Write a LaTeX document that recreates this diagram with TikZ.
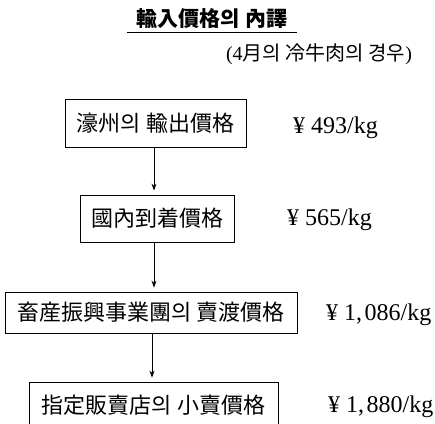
\documentclass[tikz,border=0pt]{standalone}
\usepackage{fontspec}
\setmainfont{Liberation Serif}
\newfontfamily\cjk{Noto Sans CJK KR}
\usetikzlibrary{arrows.meta}
\tikzset{
  stepbox/.style={draw, line width=0.8pt, inner sep=0pt, font=\cjk\fontsize{22}{26}\selectfont},
  price/.style={anchor=west, inner sep=0pt, font=\fontsize{24}{28}\selectfont},
  arr/.style={line width=0.8pt, -{Stealth[length=7pt,width=5pt]}, shorten >=4pt},
}
\begin{document}
\begin{tikzpicture}[x=1pt,y=-1pt]
\useasboundingbox (0,0) rectangle (435,423);
\clip (0,0) rectangle (435,423);
\node[inner sep=0pt, font=\cjk\bfseries\fontsize{21}{25}\selectfont] (title) at (212,19) {輸入價格의 內譯};
\draw[line width=0.9pt] ([xshift=-10pt,yshift=-3pt]title.south west) -- ([xshift=10pt,yshift=-3pt]title.south east);
\node[inner sep=0pt, font=\fontsize{20}{24}\selectfont] (sub) at (319,54) {(4{\cjk 月의 冷牛肉의 경우})};

\node[stepbox, minimum width=181pt, minimum height=48pt] (b1) at (155.5,123) {濠州의 輸出價格};
\node[stepbox, minimum width=154pt, minimum height=47pt] (b2) at (157,218.5) {國內到着價格};
\node[stepbox, minimum width=292pt, minimum height=41pt] (b3) at (151,312.5) {畜産振興事業團의 賣渡價格};
\node[stepbox, minimum width=249pt, minimum height=46pt] (b4) at (153.5,405) {指定販賣店의 小賣價格};

\node[price] (p1) at (293,128) {¥\hspace{0.25em}493/kg};
\node[price] (p2) at (287,220) {¥\hspace{0.25em}565/kg};
\node[price] (p3) at (326,315) {¥\hspace{0.25em}1,\hspace{0.1em}086/kg};
\node[price] (p4) at (328,407) {¥\hspace{0.25em}1,\hspace{0.1em}880/kg};

\draw[arr] ([xshift=-1.5pt]b1.south) -- ([xshift=-1.5pt]b1.south |- b2.north);
\draw[arr] ([xshift=-3pt]b2.south) -- ([xshift=-3pt]b2.south |- b3.north);
\draw[arr] ([xshift=1pt]b3.south) -- ([xshift=1pt]b3.south |- b4.north);
\end{tikzpicture}
\end{document}
